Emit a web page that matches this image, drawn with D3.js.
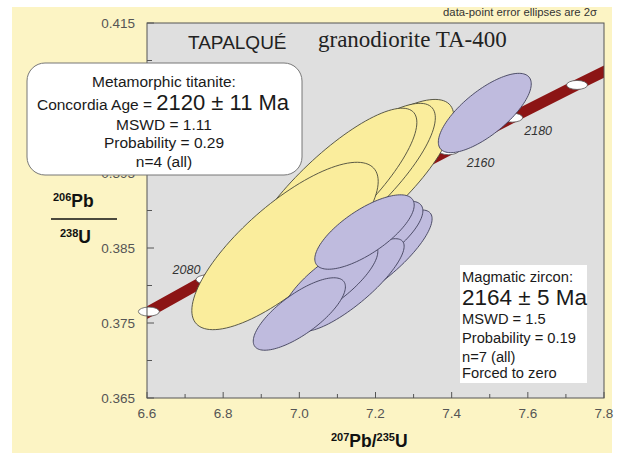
<!DOCTYPE html>
<html><head><meta charset="utf-8">
<script src="https://cdn.jsdelivr.net/npm/d3@7"></script>
<style>html,body{margin:0;padding:0;background:#fff;}svg{display:block;}</style>
</head><body>
<script>
// ---- data ----
const concAges = [2040, 2060, 2080, 2100, 2120, 2140, 2160, 2180, 2200, 2220];
const concX = [6.4566, 6.6049, 6.7562, 6.9105, 7.0678, 7.2283, 7.3920, 7.5589, 7.7292, 7.9028];
const concY = [0.37227, 0.37652, 0.38080, 0.38509, 0.38939, 0.39371, 0.39804, 0.40238, 0.40674, 0.41111];
const markerAges = [2060, 2080, 2100, 2120, 2140, 2160, 2180, 2200];
const labelAges = [2080, 2160, 2180];

// titanite (metamorphic), 2-sigma ellipses
const titX = [7.1605, 7.1211, 7.0816, 6.9624];
const titY = [0.3934, 0.3930, 0.39247, 0.38527];
const titEx = [0.245, 0.236, 0.227, 0.2447];
const titEy = [0.01141, 0.01129, 0.01117, 0.01116];
const titRho = [0.799, 0.829, 0.830, 0.772];

// zircon (magmatic), 2-sigma ellipses
const zrX = [7.487, 7.2026, 7.1868, 7.1342, 7.0816, 7.1711, 7.0];
const zrY = [0.40300, 0.38367, 0.38593, 0.38007, 0.38047, 0.38713, 0.3762];
const zrEx = [0.122, 0.146, 0.1376, 0.141, 0.1245, 0.1305, 0.121];
const zrEy = [0.00529, 0.0064, 0.00532, 0.00617, 0.0052, 0.00496, 0.00483];
const zrRho = [0.733, 0.816, 0.757, 0.838, 0.779, 0.724, 0.750];

const xTicks = [6.6, 6.8, 7.0, 7.2, 7.4, 7.6, 7.8];
const xMinor = [6.7, 6.9, 7.1, 7.3, 7.5, 7.7];
const yTicks = [0.365, 0.375, 0.385, 0.395, 0.405, 0.415];
const yMinor = [0.370, 0.380, 0.390, 0.400, 0.410];
const yLabelsHidden = [0.405]; // covered by the titanite box in the reference

const titaniteText = ["Metamorphic titanite:", "Concordia Age = ", "2120 ± 11 Ma", "MSWD = 1.11", "Probability = 0.29", "n=4 (all)"];
const zirconText = ["Magmatic zircon:", "2164 ± 5 Ma", "MSWD = 1.5", "Probability = 0.19", "n=7 (all)", "Forced to zero"];

// ---- drawing ----
const W = 619, H = 453;
const SANS = "'Liberation Sans', Arial, sans-serif";
const svg = d3.select("body").append("svg").attr("width", W).attr("height", H);

svg.append("rect").attr("x", 12).attr("y", 7).attr("width", 600).attr("height", 446).attr("fill", "#fcf4c4");

const x = d3.scaleLinear().domain([6.6, 7.8]).range([147, 604]);
const y = d3.scaleLinear().domain([0.365, 0.415]).range([398, 23]);

svg.append("defs").append("clipPath").attr("id", "clip")
  .append("rect").attr("x", 147).attr("y", 23).attr("width", 457).attr("height", 375);

svg.append("rect").attr("x", 147).attr("y", 23).attr("width", 457).attr("height", 375)
  .attr("fill", "#dfdfdf");

const plot = svg.append("g").attr("clip-path", "url(#clip)");

// concordia band
const conc = concAges.map((a, i) => [concX[i], concY[i]]);
plot.append("path")
  .attr("d", d3.line().x(d => x(d[0])).y(d => y(d[1])).curve(d3.curveMonotoneX)(conc))
  .attr("fill", "none").attr("stroke", "#8c1515").attr("stroke-width", 11);

// age markers (not clipped)
const mk = svg.append("g");
markerAges.forEach(a => {
  const i = concAges.indexOf(a);
  if (concX[i] > 7.8) return;
  mk.append("ellipse").attr("cx", x(concX[i])).attr("cy", y(concY[i]))
    .attr("rx", 10.5).attr("ry", 4.5).attr("fill", "#fff").attr("stroke", "#555").attr("stroke-width", 0.8);
});
const labelOffset = {2080: [-20, -10], 2160: [32, 13], 2180: [26, 13]};
labelAges.forEach(a => {
  const i = concAges.indexOf(a);
  svg.append("text").attr("x", x(concX[i]) + labelOffset[a][0]).attr("y", y(concY[i]) + labelOffset[a][1])
    .attr("text-anchor", "middle").attr("dominant-baseline", "central")
    .attr("font-family", SANS).attr("font-style", "italic").attr("font-size", 12.5).attr("fill", "#333")
    .text(a);
});

function ellipsePath(cx, cy, ex, ey, rho) {
  const pts = [];
  const k = Math.sqrt(1 - rho * rho);
  for (let i = 0; i <= 120; i++) {
    const t = 2 * Math.PI * i / 120;
    pts.push([x(cx + ex * Math.cos(t)), y(cy + ey * (rho * Math.cos(t) + k * Math.sin(t)))]);
  }
  return d3.line()(pts) + "Z";
}

const ell = svg.append("g").attr("clip-path", "url(#clip)");
titX.forEach((v, i) => {
  ell.append("path").attr("d", ellipsePath(titX[i], titY[i], titEx[i], titEy[i], titRho[i]))
    .attr("fill", "#faed9c").attr("stroke", "#4a4a3a").attr("stroke-width", 0.9);
});
zrX.forEach((v, i) => {
  ell.append("path").attr("d", ellipsePath(zrX[i], zrY[i], zrEx[i], zrEy[i], zrRho[i]))
    .attr("fill", "#bfbbde").attr("stroke", "#40405a").attr("stroke-width", 0.9);
});

// frame
svg.append("rect").attr("x", 147).attr("y", 23).attr("width", 457).attr("height", 375)
  .attr("fill", "none").attr("stroke", "#555").attr("stroke-width", 1);

// ticks
const tk = svg.append("g").attr("stroke", "#555").attr("stroke-width", 1);
xTicks.forEach(t => tk.append("line").attr("x1", x(t)).attr("x2", x(t)).attr("y1", 398).attr("y2", 392));
xMinor.forEach(t => tk.append("line").attr("x1", x(t)).attr("x2", x(t)).attr("y1", 398).attr("y2", 394));
yTicks.forEach(t => tk.append("line").attr("x1", 147).attr("x2", 154).attr("y1", y(t)).attr("y2", y(t)));
yMinor.forEach(t => tk.append("line").attr("x1", 147).attr("x2", 152).attr("y1", y(t)).attr("y2", y(t)));

xTicks.forEach(t => svg.append("text").attr("x", x(t)).attr("y", 418).attr("text-anchor", "middle")
  .attr("font-family", SANS).attr("font-size", 13.5).attr("fill", "#555").text(d3.format(".1f")(t)));
yTicks.filter(t => !yLabelsHidden.includes(t)).forEach(t => svg.append("text").attr("x", 135).attr("y", y(t) + 5).attr("text-anchor", "end")
  .attr("font-family", SANS).attr("font-size", 13.5).attr("fill", "#555").text(d3.format(".3f")(t)));

// titles
svg.append("text").attr("x", 188).attr("y", 49).attr("font-family", SANS).attr("font-size", 19)
  .attr("fill", "#222").text("TAPALQUÉ");
svg.append("text").attr("x", 318).attr("y", 47).attr("font-family", "'Liberation Serif', 'Times New Roman', serif")
  .attr("font-size", 23).attr("fill", "#222").text("granodiorite TA-400");
svg.append("text").attr("x", 597).attr("y", 16).attr("text-anchor", "end").attr("font-family", SANS)
  .attr("font-size", 11.3).attr("fill", "#333").text("data-point error ellipses are 2σ");

// axis labels
const yl = svg.append("g").attr("font-family", SANS).attr("font-weight", "bold").attr("fill", "#111");
const t1 = yl.append("text").attr("x", 53).attr("y", 207);
t1.append("tspan").attr("font-size", 11).attr("dy", -6).text("206");
t1.append("tspan").attr("font-size", 17.5).attr("dy", 6).text("Pb");
yl.append("line").attr("x1", 51).attr("x2", 117).attr("y1", 219).attr("y2", 219).attr("stroke", "#111").attr("stroke-width", 1.5);
const t2 = yl.append("text").attr("x", 60).attr("y", 243);
t2.append("tspan").attr("font-size", 11).attr("dy", -6).text("238");
t2.append("tspan").attr("font-size", 17.5).attr("dy", 6).text("U");

const xl = svg.append("text").attr("x", 331).attr("y", 447).attr("font-family", SANS)
  .attr("font-weight", "bold").attr("fill", "#111");
xl.append("tspan").attr("font-size", 11).attr("dy", -6).text("207");
xl.append("tspan").attr("font-size", 17.5).attr("dy", 6).text("Pb/");
xl.append("tspan").attr("font-size", 11).attr("dy", -6).text("235");
xl.append("tspan").attr("font-size", 17.5).attr("dy", 6).text("U");

// titanite box
svg.append("rect").attr("x", 27).attr("y", 63).attr("width", 275).attr("height", 112).attr("rx", 18)
  .attr("fill", "#fff").attr("stroke", "#777").attr("stroke-width", 1);
const bx = svg.append("g").attr("font-family", SANS).attr("fill", "#1a1a1a").attr("text-anchor", "middle");
bx.append("text").attr("x", 164).attr("y", 87).attr("font-size", 15.5).text(titaniteText[0]);
const ca = bx.append("text").attr("x", 163).attr("y", 110);
ca.append("tspan").attr("font-size", 15.5).text(titaniteText[1]);
ca.append("tspan").attr("font-size", 22).text(titaniteText[2]);
bx.append("text").attr("x", 164).attr("y", 130).attr("font-size", 15.5).text(titaniteText[3]);
bx.append("text").attr("x", 164).attr("y", 148).attr("font-size", 15.5).text(titaniteText[4]);
bx.append("text").attr("x", 164).attr("y", 167).attr("font-size", 15.5).text(titaniteText[5]);

// zircon box
svg.append("rect").attr("x", 460).attr("y", 265).attr("width", 127).attr("height", 118).attr("fill", "#fff");
const zb = svg.append("g").attr("font-family", SANS).attr("fill", "#1a1a1a");
const zy = [282, 305, 324, 343, 362, 378];
const zs = [14.7, 22.5, 14.7, 14.7, 14.7, 14.7];
zirconText.forEach((s, i) => zb.append("text").attr("x", 462).attr("y", zy[i]).attr("font-size", zs[i]).text(s));
</script>
</body></html>
